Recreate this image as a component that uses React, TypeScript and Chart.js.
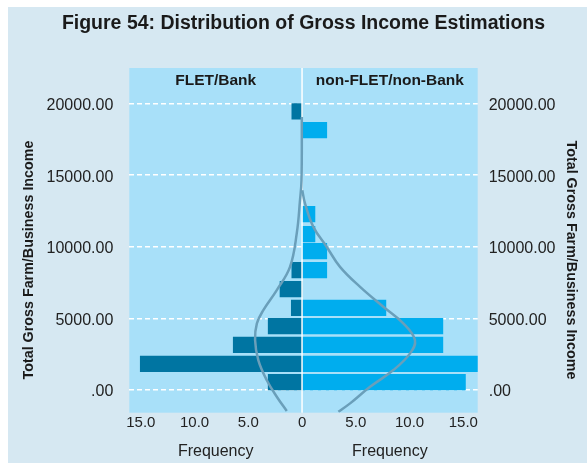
import React, { useEffect, useRef } from "react";
import { Chart, registerables } from "chart.js";

Chart.register(...registerables);

// ---------- data ----------
const TITLE = "Figure 54: Distribution of Gross Income Estimations";
const groupLabels = ["FLET/Bank", "non-FLET/non-Bank"];
const yAxisTitle = "Total Gross Farm/Business Income";
const xAxisTitle = "Frequency";

const incomeTicks = [0, 5000, 10000, 15000, 20000];
const freqTicks = [-15, -10, -5, 0, 5, 10, 15];

// FLET/Bank histogram (bin centre, frequency)
const fletIncome = [560, 1830, 3150, 4460, 5730, 7040, 8380, 19460];
const fletFreq = [3.15, 15.05, 6.4, 3.15, 1.0, 2.05, 0.95, 0.95];

// non-FLET/non-Bank histogram
const nonFletIncome = [560, 1830, 3150, 4460, 5730, 8380, 9700, 10890, 12280, 18140];
const nonFletFreq = [15.2, 16.4, 13.1, 13.1, 7.8, 2.3, 2.3, 1.2, 1.2, 2.3];

// normal curves
const fletCurveIncome = [19060, 14650, 13250, 10950, 8600, 6975, 5580, 4650, 3490, 2090, 700, -465, -1465];
const fletCurveFreq = [0.02, 0.05, 0.19, 0.49, 1.12, 2.35, 3.6, 4.2, 4.37, 4.07, 3.29, 2.35, 1.42];

const nonFletCurveIncome = [13950, 13020, 11390, 9990, 8600, 7200, 5810, 4650, 3490, 2560, 1395, 230, -930, -1515];
const nonFletCurveFreq = [0.02, 0.28, 1.05, 2.3, 3.53, 5.4, 7.56, 9.42, 10.5, 10.05, 8.5, 6.33, 4.47, 3.38];

// ---------- styles ----------
const FONT = "'Liberation Sans', Arial, Helvetica, sans-serif";
const OUTER_BG = "#d6e8f2";
const PLOT_BG = "#a8e0f9";
const DARK_BAR = "#0075a2";
const LIGHT_BAR = "#00adee";
const CURVE = "#6a9fba";
const TEXT = "#1a1a1a";

export default function App() {
  const ref = useRef<HTMLCanvasElement | null>(null);

  useEffect(() => {
    const canvas = ref.current;
    if (!canvas) return;

    let centerDrawn = false;
    const decor = {
      id: "decor",
      beforeDraw(chart: any) {
        const { ctx, chartArea: a } = chart;
        ctx.save();
        ctx.fillStyle = PLOT_BG;
        ctx.fillRect(a.left, a.top, a.right - a.left, a.bottom - a.top);
        ctx.restore();
      },
      beforeDatasetsDraw() {
        centerDrawn = false;
      },
      beforeDatasetDraw(chart: any, args: any) {
        if (centerDrawn || args.meta.type !== "line") return;
        centerDrawn = true;
        const { ctx, chartArea: a } = chart;
        const x0 = chart.scales.x.getPixelForValue(0);
        ctx.save();
        ctx.strokeStyle = "#ffffff";
        ctx.lineWidth = 1.5;
        ctx.beginPath();
        ctx.moveTo(x0, a.top);
        ctx.lineTo(x0, a.bottom);
        ctx.stroke();
        ctx.restore();
      },
      afterDraw(chart: any) {
        const { ctx, chartArea: a } = chart;
        const x0 = chart.scales.x.getPixelForValue(0);
        const cl = (a.left + x0) / 2;
        const cr = (x0 + a.right) / 2;
        ctx.save();
        ctx.fillStyle = TEXT;
        ctx.textAlign = "center";
        ctx.textBaseline = "alphabetic";
        ctx.font = `bold 19.5px ${FONT}`;
        ctx.fillText(TITLE, 295.5, 21.5);

        ctx.font = `bold 15.5px ${FONT}`;
        ctx.fillText(groupLabels[0], cl, a.top + 17);
        ctx.fillText(groupLabels[1], cr, a.top + 17);

        ctx.font = `16px ${FONT}`;
        ctx.fillStyle = "#222";
        ctx.fillText(xAxisTitle, cl, 449);
        ctx.fillText(xAxisTitle, cr, 449);

        ctx.fillStyle = TEXT;
        ctx.font = `bold 14.3px ${FONT}`;
        ctx.save();
        ctx.translate(25.3, 253);
        ctx.rotate(-Math.PI / 2);
        ctx.fillText(yAxisTitle, 0, 0);
        ctx.restore();
        ctx.save();
        ctx.translate(558.7, 253);
        ctx.rotate(Math.PI / 2);
        ctx.fillText(yAxisTitle, 0, 0);
        ctx.restore();
        ctx.restore();
      },
    };

    const yTicks = (s: any) => {
      s.ticks = incomeTicks.map((v) => ({ value: v }));
    };
    const yLabel = (v: any) => (Number(v) === 0 ? ".00" : Number(v).toFixed(2));

    const chart = new Chart(canvas, {
      type: "bar",
      data: {
        datasets: [
          {
            type: "bar",
            label: groupLabels[0],
            data: fletIncome.map((y, i) => ({ x: -fletFreq[i], y })),
            backgroundColor: DARK_BAR,
            borderWidth: 0,
            barThickness: 15.6,
            stack: "pyramid",
            order: 2,
          } as any,
          {
            type: "bar",
            label: groupLabels[1],
            data: nonFletIncome.map((y, i) => ({ x: nonFletFreq[i], y })),
            backgroundColor: LIGHT_BAR,
            borderWidth: 0,
            barThickness: 15.6,
            stack: "pyramid",
            order: 2,
          } as any,
          {
            type: "line",
            label: "FLET normal",
            data: fletCurveIncome.map((y, i) => ({ x: -fletCurveFreq[i], y })),
            borderColor: CURVE,
            borderWidth: 2.5,
            pointRadius: 0,
            fill: false,
            tension: 0.4,
            order: 1,
          } as any,
          {
            type: "line",
            label: "non-FLET normal",
            data: nonFletCurveIncome.map((y, i) => ({ x: nonFletCurveFreq[i], y })),
            borderColor: CURVE,
            borderWidth: 2.5,
            pointRadius: 0,
            fill: false,
            tension: 0.4,
            order: 1,
          } as any,
        ],
      },
      options: {
        indexAxis: "y",
        responsive: false,
        animation: false,
        devicePixelRatio: 1,
        layout: { padding: { top: 61, left: 0, right: 0, bottom: 0 } },
        plugins: {
          legend: { display: false },
          title: { display: false },
          tooltip: { enabled: false },
        },
        scales: {
          x: {
            type: "linear",
            min: -16.07,
            max: 16.34,
            offset: false,
            grid: { display: false, drawTicks: false },
            border: { display: false },
            afterBuildTicks: (s: any) => {
              s.ticks = freqTicks.map((v) => ({ value: v }));
            },
            afterFit: (s: any) => {
              s.height = 50.3;
            },
            ticks: {
              padding: 1.5,
              color: "#222",
              font: { family: FONT, size: 15 },
              maxRotation: 0,
              autoSkip: false,
              callback: (v: any) => (Number(v) === 0 ? "0" : Math.abs(Number(v)).toFixed(1)),
            },
          },
          y: {
            type: "linear",
            position: "left",
            min: -1580,
            max: 22480,
            offset: false,
            grid: { color: "#ffffff", lineWidth: 1.5, drawTicks: false, offset: false },
            border: { display: false, dash: [5, 3] },
            afterBuildTicks: yTicks,
            afterFit: (s: any) => {
              s.width = 121.3;
            },
            ticks: {
              padding: 16,
              labelOffset: 2,
              color: "#222",
              font: { family: FONT, size: 16 },
              autoSkip: false,
              callback: yLabel,
            },
          },
          y2: {
            type: "linear",
            position: "right",
            min: -1580,
            max: 22480,
            offset: false,
            grid: { display: false, drawTicks: false },
            border: { display: false },
            afterBuildTicks: yTicks,
            afterFit: (s: any) => {
              s.width = 109.3;
            },
            ticks: {
              padding: 11,
              labelOffset: 2,
              color: "#222",
              font: { family: FONT, size: 16 },
              autoSkip: false,
              callback: yLabel,
            },
          },
        },
      } as any,
      plugins: [decor],
    });

    return () => chart.destroy();
  }, []);

  return (
    <div
      style={{
        position: "absolute",
        left: 8,
        top: 7,
        width: 579,
        height: 456,
        background: OUTER_BG,
      }}
    >
      <canvas ref={ref} width={579} height={456} style={{ display: "block", width: 579, height: 456 }} />
    </div>
  );
}
